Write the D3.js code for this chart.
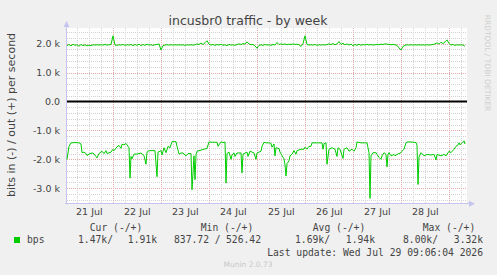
<!DOCTYPE html>
<html><head><meta charset="utf-8">
<script src="https://cdn.jsdelivr.net/npm/d3@7"></script>
<style>
html,body{margin:0;padding:0;background:#F0F0F0;}
svg{display:block;}
text{white-space:pre;}
</style></head>
<body>
<svg id="c" width="497" height="275"></svg>
<script>
// ---------- data ----------
const title = "incusbr0 traffic - by week";
const yTitle = "bits in (-) / out (+) per second";
const startTime = new Date(2026, 6, 21, 1, 6);
const endTime = new Date(2026, 6, 29, 9, 6);
// out (+) series, hourly samples, k bits/s
const outValues = [
 1.93,1.97,1.92,1.98,1.94,1.96,1.91,1.97,1.93,1.96,
 1.92,1.95,1.93,1.96,1.95,1.96,1.95,1.96,1.95,1.97,
 1.95,1.96,1.97,2.27,1.95,1.94,1.96,1.95,1.97,1.94,
 1.96,1.95,1.97,1.93,1.97,1.94,1.98,1.93,1.97,1.94,
 1.98,1.95,1.96,1.94,1.96,1.97,1.99,1.78,1.93,1.95,
 1.96,1.95,1.96,1.95,1.96,1.95,1.96,1.95,1.96,1.94,
 1.96,1.95,1.96,1.95,1.96,1.99,1.97,2.02,1.97,2.03,
 2.10,1.98,1.95,1.97,1.94,1.97,1.95,1.98,1.94,1.96,
 1.93,1.97,1.95,1.96,1.94,1.97,1.99,1.97,2.00,1.98,
 2.06,1.99,1.96,1.97,1.92,1.84,1.94,1.96,1.94,1.97,
 1.95,1.96,1.94,1.97,1.95,2.04,1.97,1.99,1.97,1.99,
 1.96,1.98,1.97,1.99,1.97,1.98,1.96,1.90,2.00,2.27,
 1.97,1.95,1.96,1.95,1.97,1.94,1.96,1.95,1.96,1.95,
 1.97,1.99,1.97,2.00,1.96,1.99,2.07,1.97,2.01,1.96,
 1.99,1.95,1.98,1.93,1.97,1.94,1.98,1.94,1.97,1.95,
 1.98,1.95,1.97,1.95,1.96,1.97,1.96,1.98,1.97,1.99,
 1.98,1.97,1.96,1.97,1.96,1.94,1.85,1.78,1.90,1.94,
 1.96,1.95,1.96,1.95,1.96,1.95,1.96,1.95,1.96,1.95,
 1.96,1.95,1.96,1.97,1.99,2.03,1.98,2.05,2.00,2.06,
 2.13,2.00,1.95,1.97,1.94,1.96,1.95,1.96,1.95,1.91
];
// in (-) series: hours after startTime and values (k bits/s, already negated)
const inHours = [0,1,2,4,6,7,7.5,8.5,9.5,10,11.5,13,14.5,15,16,17.5,18.5,19.5,20,22,23,23.5,25,26,27,27.5,28.5,29.5,30,31,31.5,32,32.5,33.5,35,37,38.5,39.5,40,41,42.5,44,45,45.5,47,47.5,48.5,49.5,50.5,51.5,52.5,54.5,55,56,57,58,59.5,60.5,62,62.5,63.5,64,64.5,65,67,68.5,70,71,72.5,73.5,75,75.5,77,78.5,79,79.5,80,81,82,82.5,83.5,84,85,87,87.5,88,90,90.5,91.5,93.5,94.5,95,97,97.5,98.5,99.5,101,102,102.5,103.5,104,104.5,106,106.5,107.5,108.5,109,109.5,110,111,111.5,112.5,113.5,114.5,115,117,118.5,119,120,121,122,122.5,124.5,126.5,127.5,128,128.5,129.5,130,131,132.5,134,135,135.5,136.5,138,138.5,140,141,142.5,143.5,144.5,145,147,148.5,150,150.5,151,151.5,152,153,154.5,155,156,157,157.5,158.5,159.5,160,160.5,161,162,163.5,164,165,167,167.5,168.5,169.5,170,172,174.5,175,175.5,176,177,178.5,180,182,183.5,184.5,185,187,188.5,189.5,191,192,193.5,194.5,195.5,196,196.5,197.5,198.5,199];
const inValues = [-2.00,-1.55,-1.43,-1.42,-1.43,-1.47,-1.77,-1.75,-1.80,-1.87,-1.80,-1.78,-1.90,-1.95,-1.80,-1.72,-1.80,-1.70,-1.80,-1.75,-1.65,-1.70,-1.57,-1.52,-1.62,-1.48,-1.50,-1.45,-1.50,-1.60,-2.65,-1.90,-1.98,-1.82,-1.82,-1.78,-1.87,-2.17,-1.75,-1.70,-1.70,-1.70,-2.60,-1.75,-1.70,-1.85,-1.60,-1.77,-1.55,-1.60,-1.39,-1.39,-1.55,-1.82,-1.78,-1.78,-1.88,-1.80,-1.80,-3.05,-1.88,-2.70,-1.85,-1.72,-1.68,-1.65,-1.62,-1.40,-1.41,-1.41,-1.41,-1.55,-1.40,-1.42,-1.40,-2.82,-1.80,-1.75,-2.00,-1.85,-1.78,-1.90,-1.78,-1.78,-2.47,-1.82,-1.75,-1.90,-1.72,-1.78,-2.00,-1.78,-1.72,-1.55,-1.41,-1.43,-1.43,-1.45,-1.58,-1.47,-1.88,-1.60,-1.63,-1.75,-1.87,-1.98,-2.20,-2.58,-2.15,-2.05,-1.88,-1.82,-1.70,-1.82,-1.70,-1.65,-1.65,-1.58,-1.65,-1.55,-1.55,-1.43,-1.43,-1.43,-1.43,-1.65,-1.46,-1.43,-2.17,-1.65,-1.60,-1.65,-1.90,-1.60,-1.65,-1.97,-1.65,-1.60,-1.72,-1.65,-1.72,-1.60,-1.40,-1.43,-1.43,-1.43,-1.60,-1.77,-3.35,-1.88,-1.77,-1.77,-1.83,-1.93,-2.00,-1.88,-1.77,-1.83,-2.26,-1.83,-1.77,-1.88,-1.83,-1.88,-1.83,-1.77,-1.72,-1.65,-1.43,-1.40,-1.40,-1.42,-1.52,-2.87,-1.92,-1.77,-1.88,-1.83,-1.85,-1.83,-2.02,-1.83,-1.88,-1.83,-1.88,-1.72,-1.77,-1.65,-1.55,-1.50,-1.43,-1.50,-1.43,-1.36,-1.47];
const yTicks = [-3, -2, -1, 0, 1, 2];
const xLabelDays = [21, 22, 23, 24, 25, 26, 27, 28];
const legendHeaders = ["Cur (-/+)", "Min (-/+)", "Avg (-/+)", "Max (-/+)"];
const legendName = "bps";
const legendIn = ["1.47k/", "837.72 /", "1.69k/", "8.00k/"];
const legendOut = ["1.91k", "526.42", "1.94k", "3.32k"];
const lastUpdate = "Last update: Wed Jul 29 09:06:04 2026";
const footer = "Munin 2.0.73";
const watermark = "RRDTOOL / TOBI OETIKER";

// ---------- drawing ----------
const svg = d3.select("#c");
const L = 67, R = 467, T = 28, B = 203.3;
const hour = 3600e3;
const x = d3.scaleTime().domain([startTime, endTime]).range([L, R]);
const y = d3.scaleLinear().domain([-3.52, 2.54]).range([B, T]);
const green = "#00CC00";
const txt = "#444";

svg.append("rect").attr("width", 497).attr("height", 275).attr("fill", "#F0F0F0");
svg.append("rect").attr("x", L).attr("y", T).attr("width", R - L).attr("height", B - T).attr("fill", "#fff");

// grid
const g = svg.append("g");
const minorY = d3.range(-17, 13).map(i => i / 5).filter(v => Math.abs(v - Math.round(v)) > 1e-6);
g.selectAll(".my").data(minorY).join("line")
  .attr("x1", L).attr("x2", R).attr("y1", d => Math.round(y(d)) + 0.5).attr("y2", d => Math.round(y(d)) + 0.5)
  .attr("stroke", "#d2d2d2").attr("stroke-dasharray", "1,1");
const minorX = d3.timeHour.every(6).range(startTime, endTime).filter(d => d.getHours() !== 0);
g.selectAll(".mx").data(minorX).join("line")
  .attr("x1", d => Math.round(x(d)) + 0.5).attr("x2", d => Math.round(x(d)) + 0.5).attr("y1", T).attr("y2", B)
  .attr("stroke", "#d2d2d2").attr("stroke-dasharray", "1,1");
g.selectAll(".My").data(yTicks.filter(v => v !== 0)).join("line")
  .attr("x1", L).attr("x2", R).attr("y1", d => Math.round(y(d)) + 0.5).attr("y2", d => Math.round(y(d)) + 0.5)
  .attr("stroke", "#e7a9a9").attr("stroke-dasharray", "1,1");
const majorX = d3.timeDay.range(startTime, endTime);
g.selectAll(".Mx").data(majorX).join("line")
  .attr("x1", d => Math.round(x(d)) + 0.5).attr("x2", d => Math.round(x(d)) + 0.5).attr("y1", T).attr("y2", B)
  .attr("stroke", "#e7a9a9").attr("stroke-dasharray", "1,1");

// axes lines and arrows
const axc = "#c4c4ee";
svg.append("line").attr("x1", L - 0.5).attr("x2", L - 0.5).attr("y1", T - 2).attr("y2", B + 1).attr("stroke", axc);
svg.append("line").attr("x1", L - 2).attr("x2", R + 3).attr("y1", Math.round(B) + 0.5).attr("y2", Math.round(B) + 0.5).attr("stroke", axc);
svg.append("path").attr("d", `M${L - 3.5},${T - 1}L${L + 2.5},${T - 1}L${L - 0.5},${T - 7}Z`).attr("fill", axc);
svg.append("path").attr("d", `M${R + 2},${B - 2.5}L${R + 2},${B + 3.5}L${R + 8},${B + 0.5}Z`).attr("fill", axc);

// zero line
svg.append("line").attr("x1", L).attr("x2", R).attr("y1", y(0)).attr("y2", y(0)).attr("stroke", "#000").attr("stroke-width", 2);

// series
const outData = outValues.map((v, i) => ({ t: new Date(+startTime + i * hour), v }));
const inData = inHours.map((h, i) => ({ t: new Date(+startTime + h * hour), v: inValues[i] }));
const line = d3.line().x(d => x(d.t)).y(d => y(d.v));
svg.append("path").datum(outData).attr("d", line).attr("fill", "none").attr("stroke", green).attr("stroke-width", 1);
svg.append("path").datum(inData).attr("d", line).attr("fill", "none").attr("stroke", green).attr("stroke-width", 1);

// y axis labels
const yAxis = d3.axisLeft(y).tickValues(yTicks).tickSize(0).tickPadding(7)
  .tickFormat(d => d === 0 ? "0.0" : d.toFixed(1) + " k");
const ya = svg.append("g").attr("transform", `translate(${L},0)`).call(yAxis);
ya.select(".domain").remove();
ya.selectAll("text").attr("font-family", "DejaVu Sans").attr("font-size", 9.5).attr("fill", txt);

// x axis labels
const noon = xLabelDays.map(dd => new Date(2026, 6, dd, 12, 0));
const xAxis = d3.axisBottom(x).tickValues(noon).tickSize(0).tickPadding(5).tickFormat(d3.timeFormat("%d %b"));
const xa = svg.append("g").attr("transform", `translate(0,${B})`).call(xAxis);
xa.select(".domain").remove();
xa.selectAll("text").attr("font-family", "DejaVu Sans").attr("font-size", 9.5).attr("fill", txt);

// titles
svg.append("text").attr("x", 248).attr("y", 24.5).attr("text-anchor", "middle")
  .attr("font-family", "DejaVu Sans").attr("font-size", 12.5).attr("fill", txt).text(title);
svg.append("text").attr("transform", "translate(15,115) rotate(-90)").attr("text-anchor", "middle")
  .attr("font-family", "DejaVu Sans").attr("font-size", 11).attr("fill", txt).text(yTitle);
svg.append("text").attr("transform", "translate(485,63) rotate(90)").attr("text-anchor", "middle")
  .attr("font-family", "DejaVu Sans").attr("font-size", 7.5).attr("fill", "#cfcfcf").text(watermark);

// legend
const mono = "DejaVu Sans Mono";
const hdrX = [116, 227, 339, 449];
svg.selectAll(".lh").data(legendHeaders).join("text")
  .attr("x", (d, i) => hdrX[i]).attr("y", 230.5).attr("text-anchor", "middle")
  .attr("font-family", mono).attr("font-size", 9.7).attr("fill", txt).text(d => d);
svg.append("rect").attr("x", 14).attr("y", 237).attr("width", 6).attr("height", 6).attr("fill", green);
svg.append("text").attr("x", 27).attr("y", 243).attr("font-family", mono).attr("font-size", 9.7).attr("fill", txt).text(legendName);
const inX = [78, 174, 295, 403];
const outX = [157, 261, 375, 483];
svg.selectAll(".li").data(legendIn).join("text")
  .attr("x", (d, i) => inX[i]).attr("y", 243)
  .attr("font-family", mono).attr("font-size", 9.7).attr("fill", txt).text(d => d);
svg.selectAll(".lo").data(legendOut).join("text")
  .attr("x", (d, i) => outX[i]).attr("y", 243).attr("text-anchor", "end")
  .attr("font-family", mono).attr("font-size", 9.7).attr("fill", txt).text(d => d);
svg.append("text").attr("x", 483).attr("y", 255.7).attr("text-anchor", "end")
  .attr("font-family", mono).attr("font-size", 9.7).attr("fill", txt).text(lastUpdate);
svg.append("text").attr("x", 248).attr("y", 266.5).attr("text-anchor", "middle")
  .attr("font-family", "DejaVu Sans").attr("font-size", 7.5).attr("fill", "#c8c8c8").text(footer);
</script>
</body></html>
